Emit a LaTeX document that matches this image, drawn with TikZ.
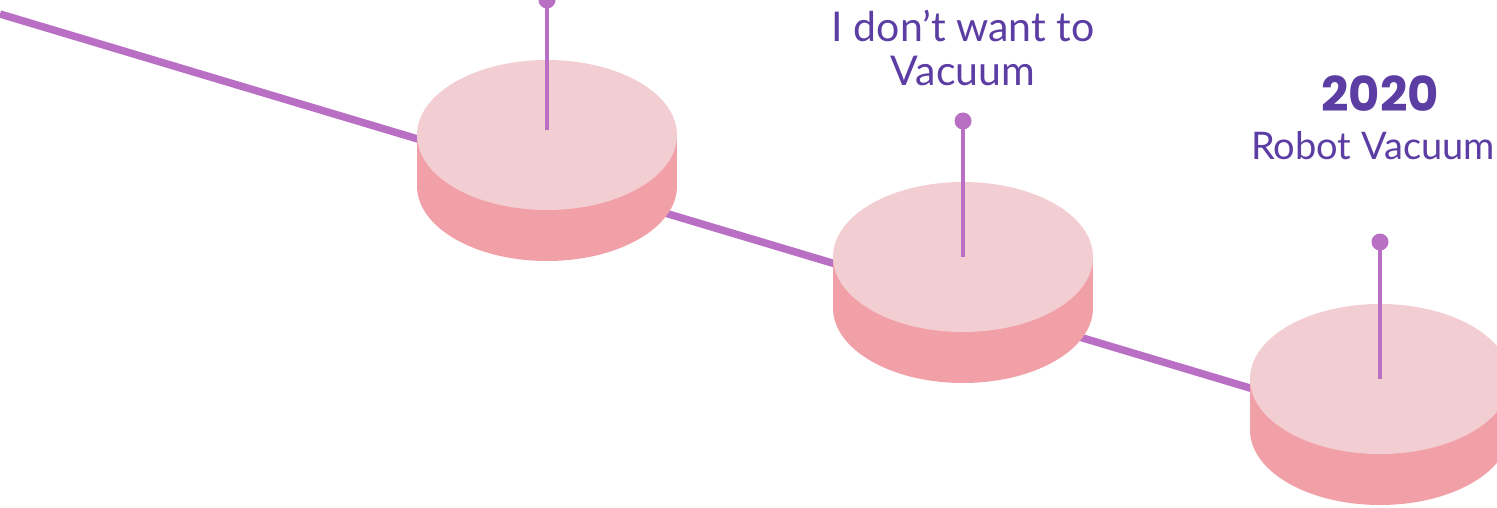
\documentclass[tikz,border=0pt]{standalone}
\usepackage{fontspec}
\setmainfont{Lato}
\newfontfamily\yearfont{Poppins}
\definecolor{linepurple}{HTML}{B970C4}
\definecolor{textpurple}{HTML}{5B3DA3}
\definecolor{disktop}{HTML}{F2CDD2}
\definecolor{diskside}{HTML}{F2A0A8}
\tikzset{
  timeline/.style={line width=7.5pt, linepurple},
  pinline/.style={line width=4pt, linepurple},
  pindot/.style={circle, fill=linepurple, inner sep=0pt, minimum size=17pt},
  labeltext/.style={text=textpurple, align=center, inner sep=0pt, font=\fontsize{41}{44}\selectfont},
}
\newcommand{\diskshape}[3]{% cx, top cy, name
  \fill[diskside] (#1,#2+51) ellipse [x radius=130, y radius=75];
  \fill[diskside] (#1-130,#2) rectangle (#1+130,#2+51);
  \fill[disktop] (#1,#2) ellipse [x radius=130, y radius=75];
  \coordinate (#3) at (#1,#2);
}
\begin{document}
\begin{tikzpicture}[x=1pt,y=-1pt]
\useasboundingbox (0,0) rectangle (1497,508);
\coordinate (start) at (0,14);
\coordinate (end) at (1300,403);
\draw[timeline] (start) -- (end);
\diskshape{547}{135}{d1}
\diskshape{963}{257}{d2}
\diskshape{1380}{379}{d3}
\node[pindot] (p1) at (547,0) {};
\node[pindot] (p2) at (963,121) {};
\node[pindot] (p3) at (1380,242) {};
\coordinate (e1) at (547,130);
\draw[pinline] (p1.center) -- (e1);
\draw[pinline] (p2.center) -- (d2);
\draw[pinline] (p3.center) -- (d3);
\node[labeltext, anchor=north] (t2) at (963,10) {I don’t want to\\Vacuum};
\node[text=textpurple, inner sep=0pt, font=\yearfont\fontsize{48}{50}\selectfont\bfseries, anchor=base] (y3) at (1380,112) {2020};
\node[labeltext, font=\fontsize{38}{42}\selectfont, anchor=base east] (t3) at (1495,160) {Robot Vacuum};
\end{tikzpicture}
\end{document}
